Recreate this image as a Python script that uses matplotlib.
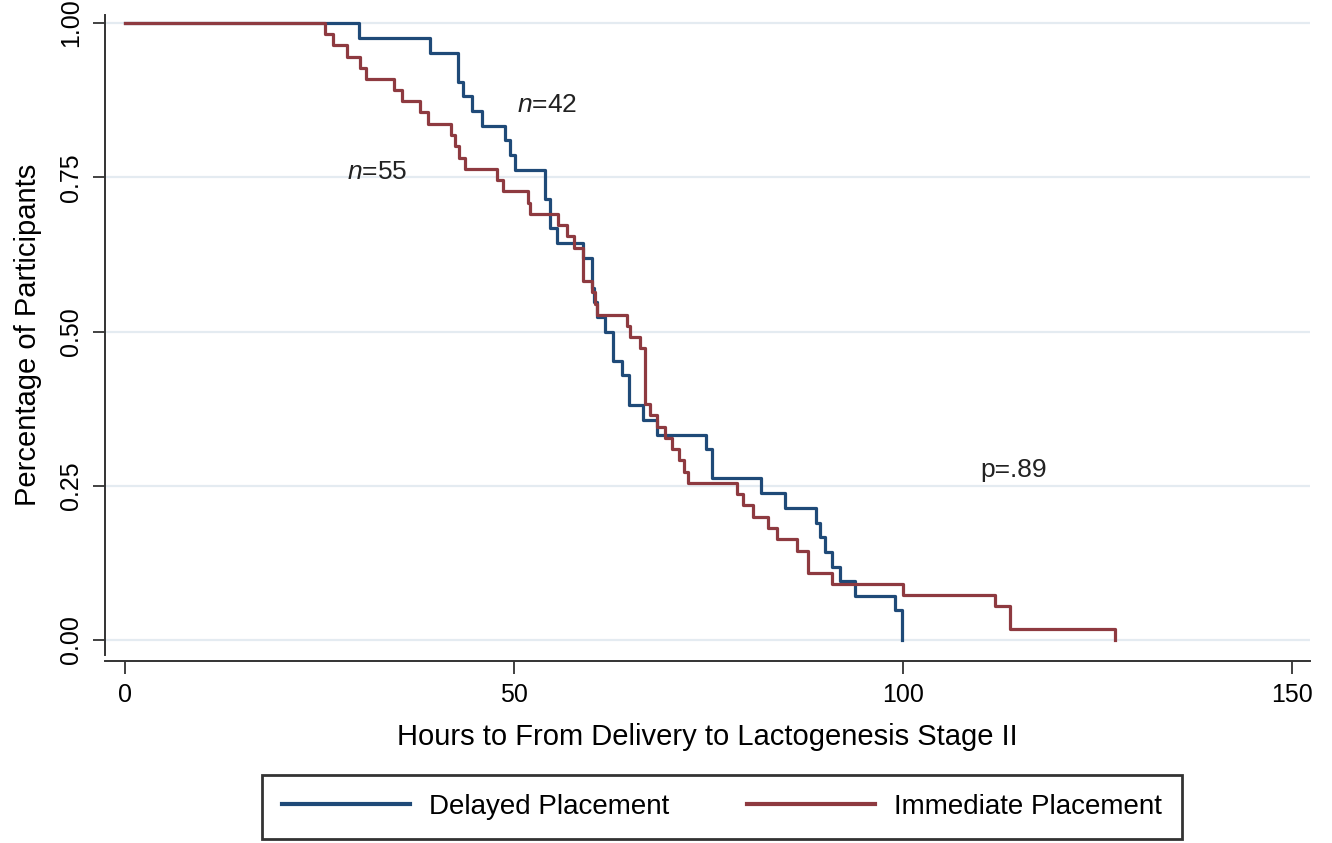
import matplotlib
matplotlib.use("Agg")
import matplotlib.pyplot as plt

plt.rcParams['font.family'] = ['Liberation Sans', 'DejaVu Sans']
plt.rcParams['mathtext.fontset'] = 'custom'
plt.rcParams['mathtext.rm'] = 'Liberation Sans'
plt.rcParams['mathtext.it'] = 'Liberation Sans:italic'

# ---- data ----
delayed_times = [0, 30.1, 39.2, 42.8, 43.4, 44.6, 45.9, 48.8, 49.5, 50.1, 54.0,
                 54.6, 55.5, 58.9, 60.0, 60.3, 60.7, 61.7, 62.7, 63.9, 64.8,
                 66.6, 68.4, 74.7, 75.4, 81.7, 84.8, 88.8, 89.3, 90.0, 90.9,
                 91.9, 93.8, 99.0, 99.9]
delayed_surv = [1.0, 0.976, 0.952, 0.905, 0.881, 0.857, 0.833, 0.810, 0.786, 0.762, 0.714,
                0.667, 0.643, 0.619, 0.571, 0.548, 0.524, 0.500, 0.452, 0.429, 0.381,
                0.357, 0.333, 0.310, 0.262, 0.238, 0.214, 0.190, 0.167, 0.143, 0.119,
                0.095, 0.071, 0.048, 0.0]

immediate_times = [0, 25.7, 26.7, 28.5, 30.2, 31.0, 34.6, 35.6, 37.9, 38.9, 41.9,
                   42.4, 42.9, 43.7, 47.8, 48.6, 51.8, 52.1, 55.7, 56.8, 57.7,
                   58.9, 60.0, 60.4, 60.7, 64.5, 64.9, 66.2,
                   66.8, 67.5, 68.4, 69.4, 70.3, 71.2, 71.9, 72.4,
                   78.7, 79.4, 80.7, 82.6, 83.8, 86.4,
                   87.8, 90.9, 100.0, 111.8, 113.8, 127.2]
immediate_surv = [1.0, 0.982, 0.964, 0.945, 0.927, 0.909, 0.891, 0.873, 0.855, 0.836, 0.818,
                  0.800, 0.782, 0.764, 0.745, 0.727, 0.709, 0.691, 0.673, 0.655, 0.636,
                  0.582, 0.564, 0.545, 0.527, 0.509, 0.491, 0.473,
                  0.382, 0.364, 0.345, 0.327, 0.309, 0.291, 0.273, 0.255,
                  0.236, 0.218, 0.200, 0.182, 0.164, 0.145,
                  0.109, 0.091, 0.073, 0.055, 0.018, 0.0]

x_ticks = [0, 50, 100, 150]
y_ticks = [0.0, 0.25, 0.50, 0.75, 1.00]
y_tick_labels = ["0.00", "0.25", "0.50", "0.75", "1.00"]
series_labels = ["Delayed Placement", "Immediate Placement"]
annotations = [(r"$\it{n}$=42", 50.4, 0.867), (r"$\it{n}$=55", 28.5, 0.758), ("p=.89", 109.9, 0.276)]

blue = "#1f4a78"
red = "#8e3a40"

W, H = 1332, 843
fig = plt.figure(figsize=(W / 100, H / 100), dpi=100)
left, right, top, bottom = 105, 1310, 15, 655
ax = fig.add_axes([left / W, 1 - bottom / H, (right - left) / W, (bottom - top) / H])

for s in ["top", "right"]:
    ax.spines[s].set_visible(False)
ax.spines["bottom"].set_position(("outward", 4))
ax.spines["left"].set_color("#333333")
ax.spines["bottom"].set_color("#333333")
ax.spines["left"].set_linewidth(1.4)
ax.spines["bottom"].set_linewidth(1.4)

ax.step(delayed_times, delayed_surv, where="post", color=blue, lw=2.3, label=series_labels[0], zorder=3)
ax.step(immediate_times, immediate_surv, where="post", color=red, lw=2.3, label=series_labels[1], zorder=4)

px = (1292 - 125) / 150.0
ax.set_xlim(-(125 - left) / px, 150 + (right - 1292) / px)
py = 617.0
ax.set_ylim(-(bottom - 640) / py, 1 + (23 - top) / py)

ax.set_xticks(x_ticks)
ax.set_xticklabels([str(v) for v in x_ticks])
ax.set_yticks(y_ticks)
ax.set_yticklabels(y_tick_labels)
ax.tick_params(axis="both", length=9, width=1.3, color="#333333", pad=7, labelsize=18)
for lab in ax.get_yticklabels():
    lab.set_rotation(90)
    lab.set_va("center")

ax.yaxis.grid(True, color="#e4ebf1", lw=1.6)
ax.set_axisbelow(True)

ax.set_xlabel("Hours to From Delivery to Lactogenesis Stage II", fontsize=21, labelpad=12)
ax.set_ylabel("Percentage of Participants", fontsize=21, labelpad=12)

for txt, xv, yv in annotations:
    ax.text(xv, yv, txt, fontsize=19, ha="left", va="center", color="#222222")

leg = fig.legend(loc="center", bbox_to_anchor=(722 / W, 1 - 807 / H), ncol=2,
                 fontsize=20, frameon=True, fancybox=False, edgecolor="black",
                 handlelength=4.6, handletextpad=0.7, columnspacing=2.8,
                 borderpad=0.7, borderaxespad=0)
leg.get_frame().set_linewidth(2.0)
for line in leg.get_lines():
    line.set_linewidth(3.0)

fig.savefig("out.png", dpi=100)
